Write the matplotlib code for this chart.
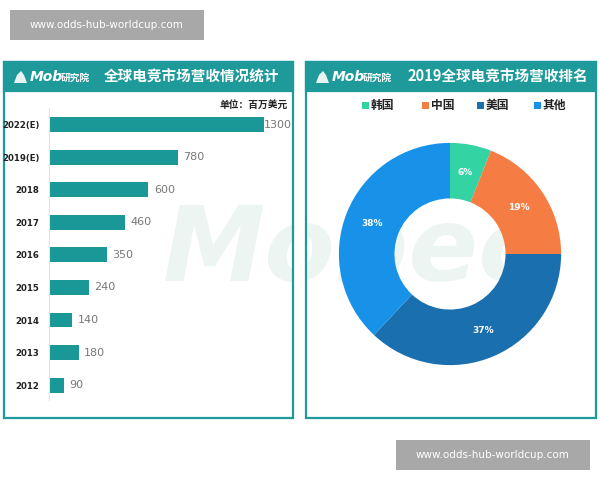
import matplotlib
matplotlib.use("Agg")
import math
import matplotlib.pyplot as plt
from matplotlib.patches import Rectangle, Polygon

plt.rcParams['font.family'] = ['Noto Sans CJK SC', 'DejaVu Sans']

# ---------------- data ----------------
years = ["2012", "2013", "2014", "2015", "2016", "2017", "2018", "2019(E)", "2022(E)"]
revenue = [90, 180, 140, 240, 350, 460, 600, 780, 1300]

regions = ["韩国", "中国", "美国", "其他"]
shares = [6, 19, 37, 38]
region_colors = ["#33d3a4", "#f57c43", "#1a6fae", "#1891e9"]

left_title = "全球电竞市场营收情况统计"
right_title = "2019全球电竞市场营收排名"
unit_text = "单位：百万美元"
site_text = "www.odds-hub-worldcup.com"

TEAL = "#1f9a9b"
BAR = "#1a9898"

W, H = 600, 480
fig = plt.figure(figsize=(6, 4.8), dpi=100)
fig.patch.set_facecolor("white")


def fx(x):
    return x / W


def fy(y):
    return 1 - y / H


def rect(x0, y0, x1, y1, **kw):
    r = Rectangle((fx(x0), fy(y1)), (x1 - x0) / W, (y1 - y0) / H,
                  transform=fig.transFigure, **kw)
    fig.patches.append(r)
    return r


def logo(x, y):
    # small building icon
    pts = [(x, y + 6), (x + 3, y - 2), (x + 7, y - 6), (x + 10, y - 2),
           (x + 13, y + 6)]
    fig.patches.append(Polygon([(fx(a), fy(b)) for a, b in pts], closed=True,
                               transform=fig.transFigure, facecolor="white",
                               edgecolor="none", alpha=0.9, zorder=3))
    fig.text(fx(x + 16), fy(y), "Mob", color="white", fontsize=10,
             fontstyle="italic", fontweight="bold", va="center", ha="left",
             family=['DejaVu Sans'], zorder=3)
    fig.text(fx(x + 47), fy(y + 0.5), "研究院", color="white", fontsize=7,
             fontstyle="italic", fontweight="bold", va="center", ha="left",
             zorder=3)


# ---------------- panels ----------------
panels = [(4, 293), (306, 596)]
for (x0, x1) in panels:
    rect(x0, 62, x1, 418, facecolor="white", edgecolor="none", zorder=0)

# faint background watermark
fig.text(fx(163), fy(252), "Mobec", color="#edf5f3", fontsize=74,
         fontstyle="italic", fontweight="bold", va="center", ha="left",
         family=['DejaVu Sans'], zorder=0.5)
rect(293.8, 62, 305.2, 418, facecolor="white", edgecolor="none", zorder=0.7)

for (x0, x1) in panels:
    rect(x0, 62, x1, 418, facecolor="none", edgecolor=TEAL, linewidth=1.6,
         zorder=1)
    rect(x0, 62, x1, 91, facecolor=TEAL, edgecolor=TEAL, linewidth=1.6,
         zorder=1)

logo(14, 77)
logo(316, 77)
fig.text(fx(191), fy(77), left_title, color="white", fontsize=10.5,
         fontweight="bold", ha="center", va="center", zorder=3)
fig.text(fx(498), fy(77), right_title, color="white", fontsize=10.5,
         fontweight="bold", ha="center", va="center", zorder=3)
fig.text(fx(288), fy(105), unit_text, color="#222222", fontsize=7,
         fontweight="bold", ha="right", va="center", zorder=3)

# ---------------- bar chart ----------------
ax = fig.add_axes([fx(49), fy(400), (280 - 49) / W, (400 - 108) / H])
ax.set_zorder(2)
ax.set_facecolor("none")
ypos = list(range(len(years)))
ax.barh(ypos, revenue, height=0.46, color=BAR, zorder=2)
ax.set_xlim(0, 1300 * 231 / 215)
ax.set_ylim(-0.46, 8.52)
ax.set_yticks(ypos)
ax.set_yticklabels(years, fontsize=6.2, fontweight="bold", color="#222222",
                   family=['DejaVu Sans'])
ax.tick_params(axis="y", length=0, pad=7)
ax.set_xticks([])
for s in ["top", "right", "bottom"]:
    ax.spines[s].set_visible(False)
ax.spines["left"].set_color("#e3e3e3")
ax.spines["left"].set_linewidth(0.8)
for i, v in enumerate(revenue):
    ax.annotate(str(v), (v, i), xytext=(4 if v < 1300 else 0, 0),
                textcoords="offset points", va="center", ha="left",
                fontsize=8, color="#777777", family=['DejaVu Sans'])

# ---------------- donut ----------------
pax = fig.add_axes([fx(450 - 120), fy(254 + 120), 240 / W, 240 / H])
pax.set_zorder(2)
pax.set_facecolor("none")
wedges, _ = pax.pie(shares, colors=region_colors, startangle=90,
                    counterclock=False, radius=1.0,
                    wedgeprops=dict(width=0.5, edgecolor="none"))
acc = 0
for s in shares:
    mid = 90 - (acc + s / 2) / 100 * 360
    r = 0.75
    pax.text(r * math.cos(math.radians(mid)), r * math.sin(math.radians(mid)),
             f"{s}%", color="white", fontsize=6.5, fontweight="bold",
             ha="center", va="center", family=['DejaVu Sans'])
    acc += s
pax.set_xlim(-1.08, 1.08)
pax.set_ylim(-1.08, 1.08)
pax.set_aspect("equal")
pax.axis("off")

# legend
leg_x = [365, 425, 480, 537]
for x, name, c in zip(leg_x, regions, region_colors):
    rect(x - 3.5, 101.5, x + 3.5, 108.5, facecolor=c, edgecolor="none",
         zorder=3)
    fig.text(fx(x + 6), fy(105), name, fontsize=8.5, fontweight="bold",
             color="#222222", ha="left", va="center", zorder=3)

# ---------------- site badges ----------------
for (x0, y0, x1, y1) in [(10, 10, 204, 40), (396, 440, 590, 470)]:
    rect(x0, y0, x1, y1, facecolor="#a8a8a8", edgecolor="none", zorder=5)
    fig.text(fx((x0 + x1) / 2), fy((y0 + y1) / 2), site_text, color="white",
             fontsize=7.5, ha="center", va="center", zorder=6,
             family=['DejaVu Sans'])

fig.savefig("out.png", dpi=100, facecolor="white")
